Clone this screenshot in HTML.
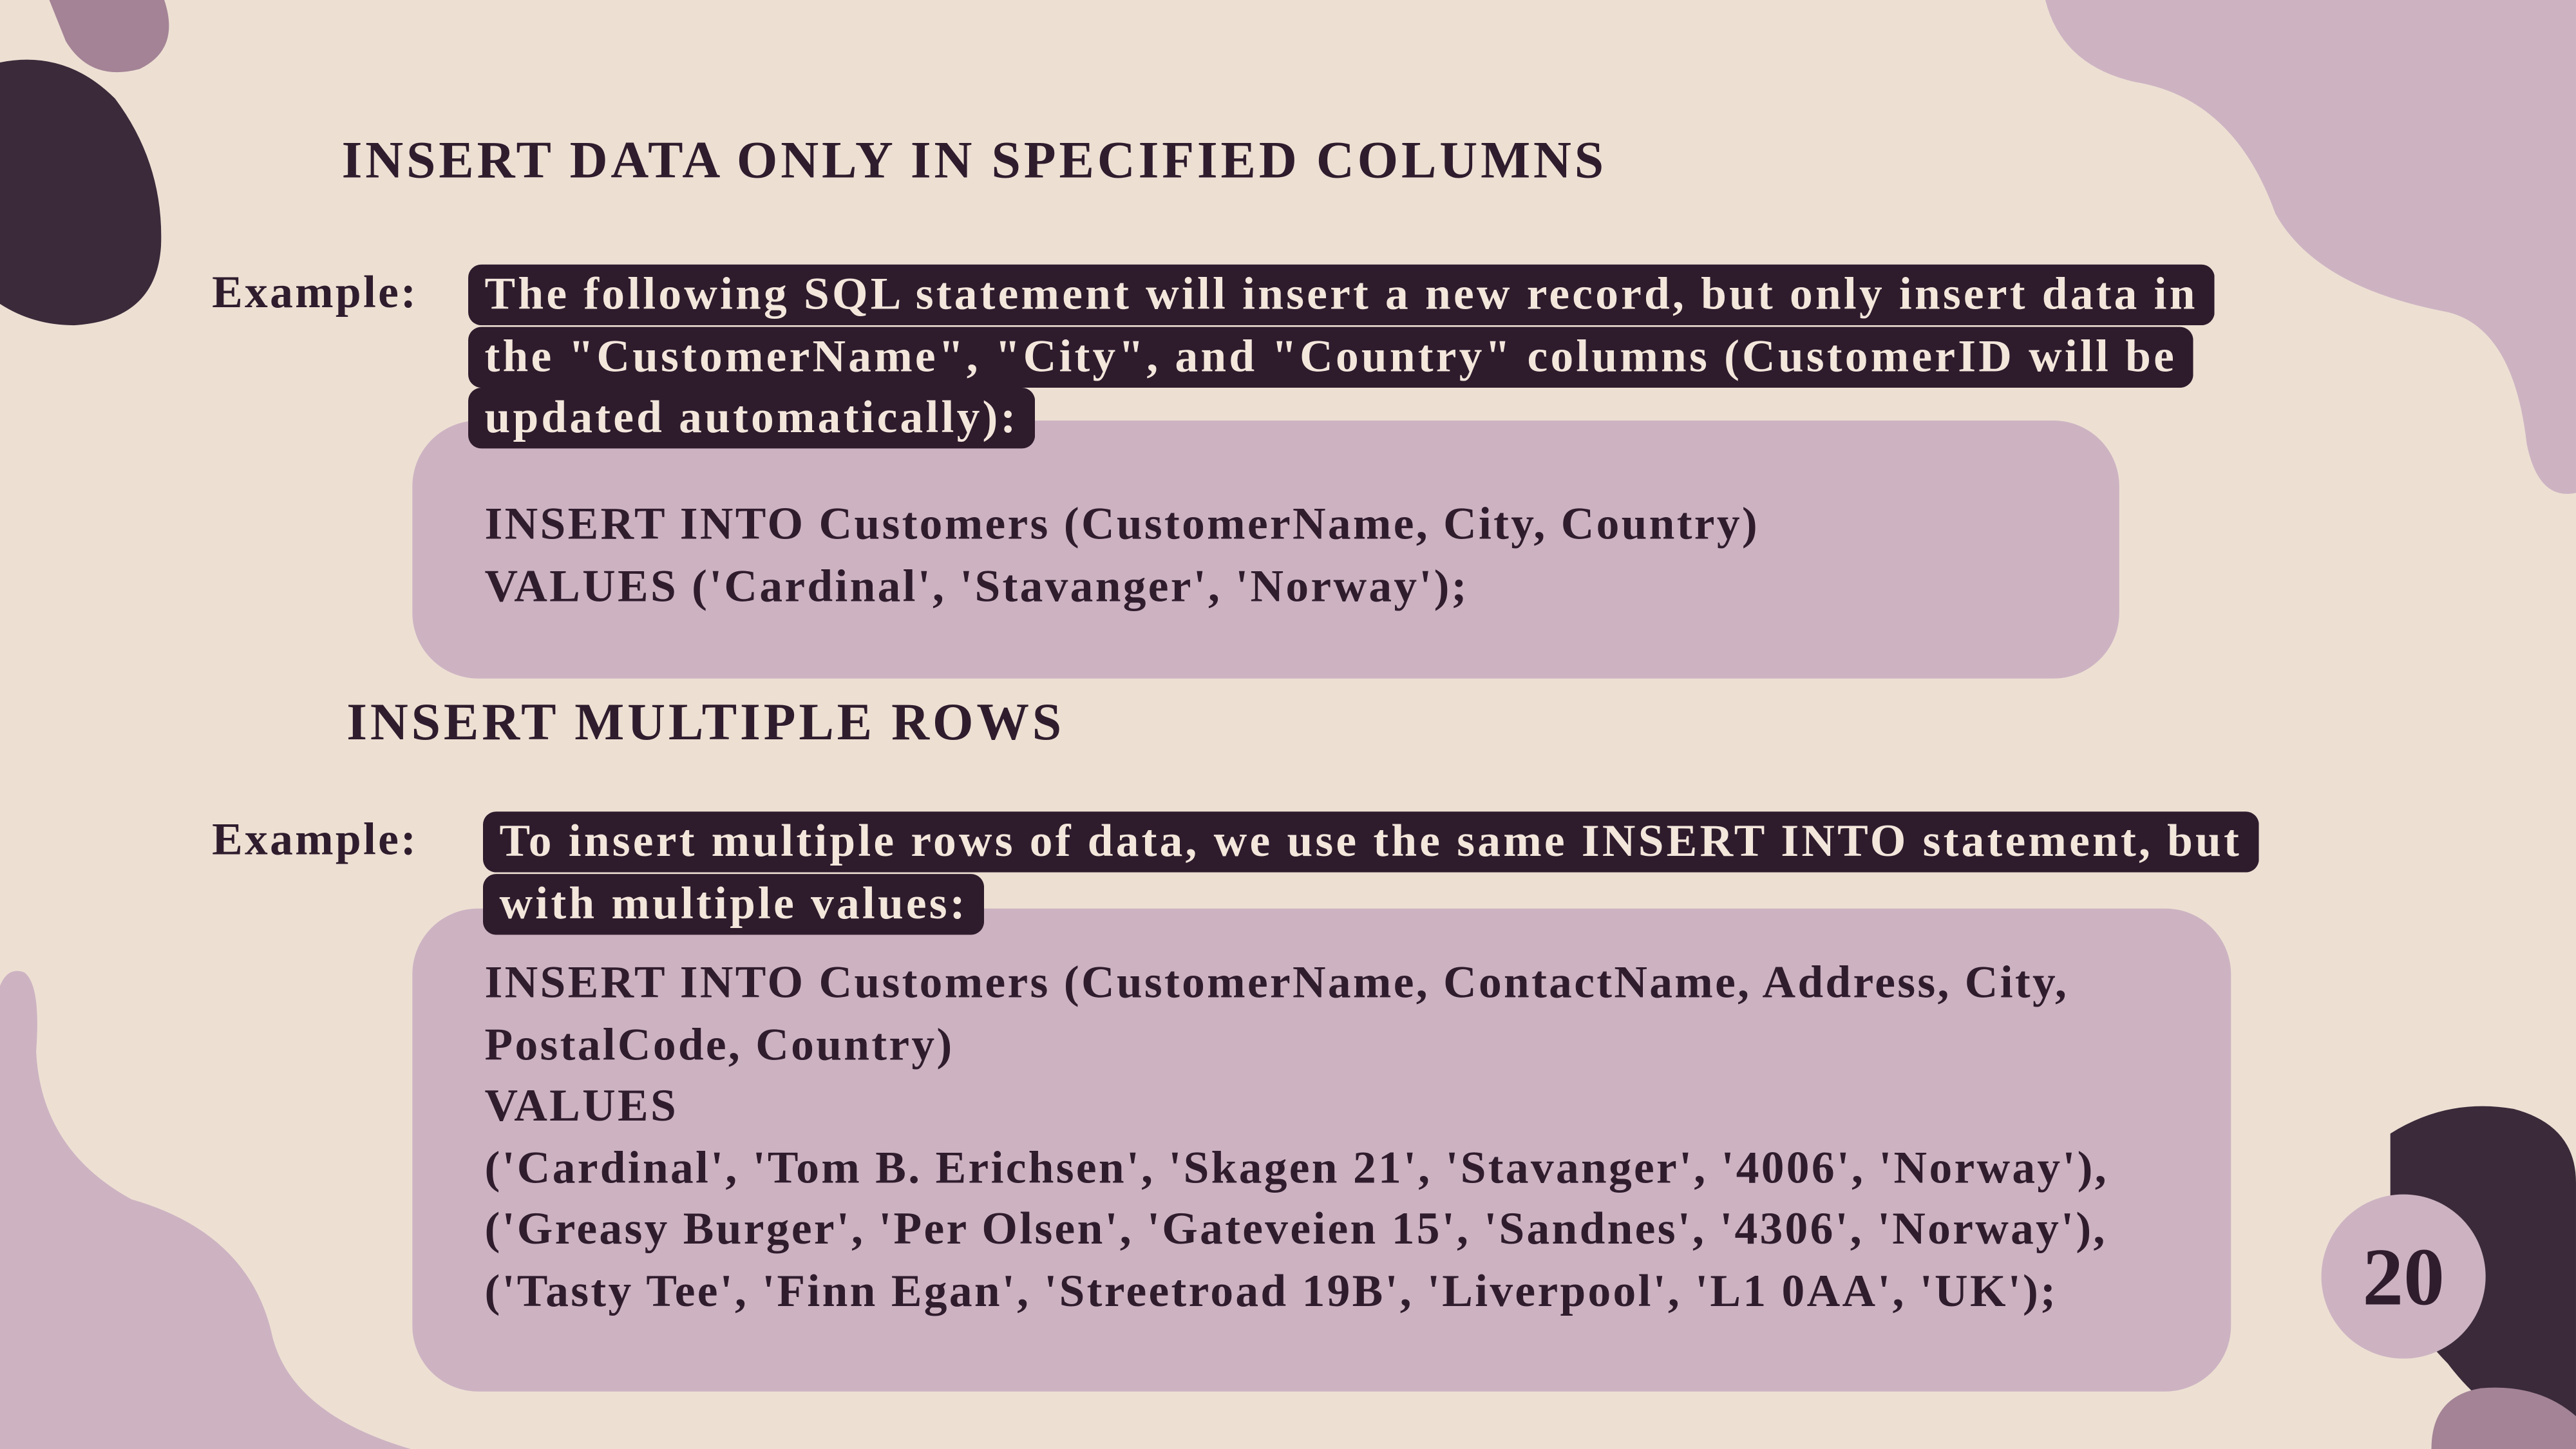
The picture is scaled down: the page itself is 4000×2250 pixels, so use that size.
<!DOCTYPE html>
<html><head><meta charset="utf-8">
<style>
html,body{margin:0;padding:0;background:#ede0d3;overflow:hidden}
#stage{position:absolute;left:0;top:0;width:1568px;height:882px;transform:scale(2.5510);transform-origin:0 0;background:#ede0d3;font-family:"Liberation Serif",serif;font-weight:bold;color:#2f1c2d;overflow:hidden}
.abs{position:absolute}
.h{font-size:32px;letter-spacing:1.9px;white-space:nowrap}
.lbl{font-size:28px;letter-spacing:1.3px}
.hl{font-size:28px;letter-spacing:1.65px;line-height:37.5px;color:#f3e7dc;white-space:nowrap}
.hl span{background:#2e1b2c;padding:3px 10px 3px 10px;border-radius:8px;-webkit-box-decoration-break:clone;box-decoration-break:clone}
.box{background:#cdb3c2;border-radius:40px}
.code{font-size:28px;letter-spacing:1.3px;line-height:37.5px;white-space:nowrap}
</style></head>
<body>
<div id="stage">
<svg class="abs" style="left:0;top:0" width="1568" height="882">
  <path d="M30,0 L100,0 Q110,30 85,42 Q55,50 40,25 Z" fill="#a48396"/>
  <path d="M0,38 Q40,30 70,60 Q100,100 98,150 Q95,195 45,198 Q20,198 0,185 Z" fill="#3a2a3a"/>
  <path d="M1245,0 L1568,0 L1568,300 Q1545,305 1538,270 Q1530,200 1490,190 Q1410,175 1385,130 Q1360,60 1300,50 Q1255,40 1245,0 Z" fill="#cdb3c2"/>
  <path d="M0,600 Q5,588 15,592 Q25,600 22,640 Q25,700 80,730 Q150,750 165,810 Q175,860 250,882 L0,882 Z" fill="#cdb3c2"/>
  <path d="M1455,690 Q1490,668 1530,675 Q1568,685 1568,720 L1568,880 Q1520,870 1490,830 Q1460,800 1455,760 Z" fill="#3a2a3a"/>
  <path d="M1480,882 Q1480,850 1510,845 Q1545,842 1568,862 L1568,882 Z" fill="#a48396"/>
  <circle cx="1463" cy="777" r="50" fill="#cdb3c2"/>
</svg>

<div class="abs box" style="left:251px;top:256px;width:1039px;height:157px"></div>
<div class="abs box" style="left:251px;top:553px;width:1107px;height:294px"></div>

<div class="abs h" style="left:208px;top:79px">INSERT DATA ONLY IN SPECIFIED COLUMNS</div>
<div class="abs lbl" style="left:129px;top:163px">Example:</div>
<div class="abs hl" style="left:285px;top:161px"><span>The following SQL statement will insert a new record, but only insert data in<br>the "CustomerName", "City", and "Country" columns (CustomerID will be<br>updated automatically):</span></div>
<div class="abs code" style="left:295px;top:301px">INSERT INTO Customers (CustomerName, City, Country)<br>VALUES ('Cardinal', 'Stavanger', 'Norway');</div>

<div class="abs h" style="left:211px;top:421px">INSERT MULTIPLE ROWS</div>
<div class="abs lbl" style="left:129px;top:496px">Example:</div>
<div class="abs hl" style="left:294px;top:494px"><span>To insert multiple rows of data, we use the same INSERT INTO statement, but<br>with multiple values:</span></div>
<div class="abs code" style="left:295px;top:580px">INSERT INTO Customers (CustomerName, ContactName, Address, City,<br>PostalCode, Country)<br>VALUES<br>('Cardinal', 'Tom B. Erichsen', 'Skagen 21', 'Stavanger', '4006', 'Norway'),<br>('Greasy Burger', 'Per Olsen', 'Gateveien 15', 'Sandnes', '4306', 'Norway'),<br>('Tasty Tee', 'Finn Egan', 'Streetroad 19B', 'Liverpool', 'L1 0AA', 'UK');</div>

<div class="abs" style="left:1413px;top:748px;width:100px;text-align:center;font-size:50px;line-height:58px">20</div>
</div>
</body></html>
